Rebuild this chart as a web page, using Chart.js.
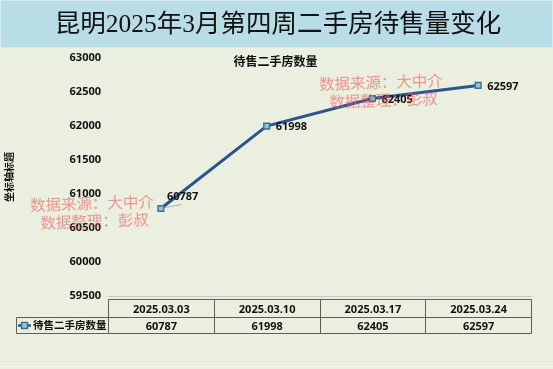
<!DOCTYPE html>
<html>
<head>
<meta charset="utf-8">
<script src="https://cdn.jsdelivr.net/npm/chart.js@4.4.1/dist/chart.umd.min.js"></script>
<style>
  body { margin: 0; background: #ebefdf; }
</style>
</head>
<body>
<canvas id="housing_chart" width="553" height="369"></canvas>
<script>
// chart data
const categories = ['2025.03.03', '2025.03.10', '2025.03.17', '2025.03.24'];
const values = [60787, 61998, 62405, 62597];
const yMin = 59500;
const yMax = 63000;
const yStep = 500;
const seriesName = '待售二手房数量';
const chartTitle = '昆明2025年3月第四周二手房待售量变化';
const axisTitle = '坐标轴标题';
const watermark = ['数据来源：大中介', '数据整理：彭叔'];

const numFont = "'Open Sans', 'Noto Sans CJK SC', sans-serif";

/**
* Background, title band, watermarks, point labels and the data table
*/
const excelLook = {
    id: 'excelLook',
    beforeDraw(chart) {
        const {ctx, width} = chart;
        ctx.save();
        ctx.fillStyle = '#ebefdf';
        ctx.fillRect(0, 0, width, chart.height);
        ctx.fillStyle = '#f6f8f0';
        ctx.fillRect(0, 366, width, 1);
        ctx.fillStyle = '#b9dde7';
        ctx.fillRect(0, 0, width, 48);
        ctx.strokeStyle = '#d6eaef';
        ctx.strokeRect(0.5, 0.5, width - 1, 47);

        ctx.fillStyle = '#111';
        ctx.textAlign = 'center';
        ctx.textBaseline = 'middle';
        ctx.font = "25.5px 'Liberation Serif', 'Noto Sans CJK SC', serif";
        ctx.fillText(chartTitle, 278, 25);

        ctx.font = "bold 12px " + numFont;
        ctx.fillText(seriesName, 275.5, 63);

        // vertical axis title
        ctx.translate(10, 177);
        ctx.rotate(-Math.PI / 2);
        ctx.font = "bold 10px " + numFont;
        ctx.fillText(axisTitle, 0, 0);
        ctx.restore();
    },
    afterDatasetsDraw(chart) {
        const {ctx, chartArea: {left, right}} = chart;
        const pts = chart.getDatasetMeta(0).data;
        ctx.save();
        ctx.font = "bold 11px " + numFont;
        ctx.fillStyle = '#111';
        ctx.textBaseline = 'middle';
        ctx.textAlign = 'left';
        pts.forEach((p, i) => {
            if (i === 0) {
                ctx.strokeStyle = '#b0b0a8';
                ctx.lineWidth = 1;
                ctx.beginPath();
                ctx.moveTo(p.x + 4, p.y - 1);
                ctx.lineTo(p.x + 21, p.y - 4);
                ctx.stroke();
                ctx.fillText(values[i], p.x + 6, p.y - 12);
            } else {
                ctx.fillText(values[i], p.x + 9, p.y + 1);
            }
        });

        // watermarks
        ctx.fillStyle = 'rgba(232, 92, 92, 0.62)';
        ctx.textAlign = 'center';
        ctx.font = "15.5px 'Liberation Serif', 'Noto Sans CJK SC', serif";
        [[92, 205], [381, 84]].forEach(([wx, wy]) => {
            ctx.save();
            ctx.translate(wx, wy);
            ctx.rotate(-0.03);
            ctx.fillText(watermark[0], 0, 0);
            ctx.fillText(watermark[1], 2, 18);
            ctx.restore();
        });

        // data table under the plot, columns follow the category slots
        const x0 = Math.round(left) + 0.5, x1 = Math.round(right) + 0.5;
        const colW = (x1 - x0) / categories.length;
        const top = 299.5, mid = 317.5, bot = 333.5, keyLeft = 16.5;
        ctx.strokeStyle = '#5c5f55';
        ctx.lineWidth = 1;
        ctx.beginPath();
        ctx.moveTo(x0, top); ctx.lineTo(x1, top);
        ctx.moveTo(keyLeft, mid); ctx.lineTo(x1, mid);
        ctx.moveTo(keyLeft, bot); ctx.lineTo(x1, bot);
        ctx.moveTo(keyLeft, mid); ctx.lineTo(keyLeft, bot);
        for (let i = 0; i <= categories.length; i++) {
            const cx = Math.round(x0 + colW * i - 0.5) + 0.5;
            ctx.moveTo(cx, top); ctx.lineTo(cx, bot);
        }
        ctx.stroke();

        ctx.fillStyle = '#111';
        ctx.textAlign = 'center';
        ctx.font = "bold 11px " + numFont;
        categories.forEach((c, i) => {
            ctx.fillText(c, x0 + colW * i + colW / 2, (top + mid) / 2 + 1);
            ctx.fillText(values[i], x0 + colW * i + colW / 2, (mid + bot) / 2 + 1);
        });

        // legend key in the table
        const ly = (mid + bot) / 2;
        ctx.strokeStyle = '#2b5591';
        ctx.lineWidth = 2.5;
        ctx.beginPath();
        ctx.moveTo(18, ly); ctx.lineTo(31, ly);
        ctx.stroke();
        ctx.fillStyle = '#8fcac6';
        ctx.strokeStyle = '#3d6f9e';
        ctx.lineWidth = 1.5;
        ctx.fillRect(21.5, ly - 3, 6, 6);
        ctx.strokeRect(21.5, ly - 3, 6, 6);
        ctx.fillStyle = '#111';
        ctx.textAlign = 'left';
        ctx.font = "bold 10.5px " + numFont;
        ctx.fillText(seriesName, 33, ly + 1);
        ctx.restore();
    }
};

const ctx = document.getElementById('housing_chart').getContext('2d');

let housingChart = new Chart(ctx, {
    type: 'line',
    data: {
        labels: categories,
        datasets: [{
            label: seriesName,
            data: values,
            borderColor: '#2b5591',
            borderWidth: 3,
            pointStyle: 'rect',
            pointRadius: 4,
            pointBackgroundColor: '#8fcac6',
            pointBorderColor: '#3d6f9e',
            pointBorderWidth: 1.5,
            tension: 0
        }]
    },
    options: {
        responsive: false,
        animation: false,
        layout: {
            padding: {top: 58, right: 22, bottom: 73, left: 0}
        },
        plugins: {
            legend: {display: false},
            tooltip: {enabled: false}
        },
        scales: {
            x: {
                offset: true,
                grid: {display: false},
                border: {display: true, color: '#c9cbc0'},
                ticks: {display: false},
                afterFit(scale) { scale.height = 0; }
            },
            y: {
                min: yMin,
                max: yMax,
                grid: {display: false, drawTicks: false},
                border: {display: false},
                ticks: {
                    stepSize: yStep,
                    padding: 7,
                    color: '#111',
                    font: {family: numFont, size: 11, weight: 'bold'},
                    callback: (v) => String(v)
                },
                afterFit(scale) { scale.width = 108; }
            }
        }
    },
    plugins: [excelLook]
});
</script>
</body>
</html>
